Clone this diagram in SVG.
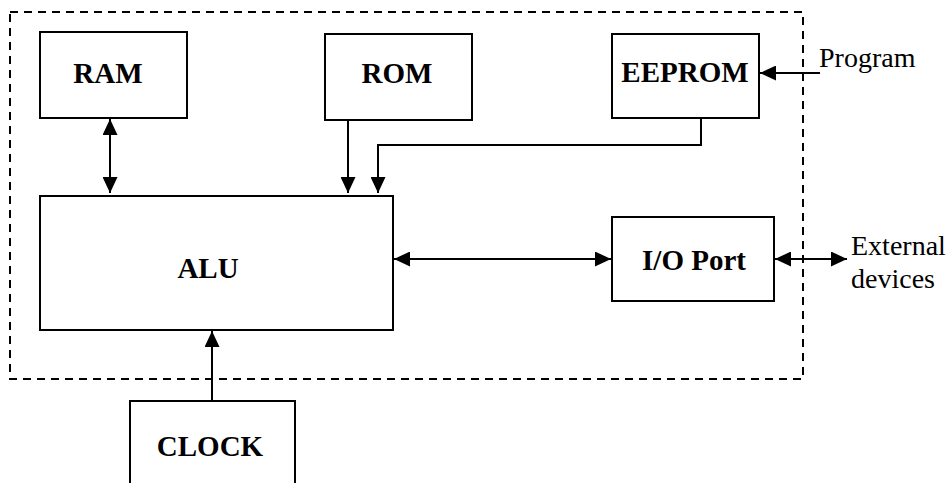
<svg xmlns="http://www.w3.org/2000/svg" width="952" height="483" viewBox="0 0 952 483">
<style>
.box{fill:#fff;stroke:#000;stroke-width:2}
.lbl{font-family:'Liberation Serif','Times New Roman',Times,'DejaVu Serif',serif;font-weight:bold;font-size:29px;text-anchor:middle;fill:#000}
.ext{font-family:'Liberation Serif','Times New Roman',Times,'DejaVu Serif',serif;font-size:28px;fill:#000}
.conn{fill:none;stroke:#000;stroke-width:2}
</style>
<defs>
<marker id="ah" markerUnits="userSpaceOnUse" markerWidth="16" markerHeight="15" refX="16" refY="7.5" orient="auto-start-reverse" viewBox="0 0 16 15">
<path d="M0,0 L16,7.5 L0,15 z" fill="#000"/>
</marker>
</defs>
<rect x="10" y="12" width="793" height="367" fill="none" stroke="#000" stroke-width="2" stroke-dasharray="8,6"/>
<g id="connectors">
<line class="conn" x1="110" y1="119" x2="110" y2="193" marker-start="url(#ah)" marker-end="url(#ah)"/>
<line class="conn" x1="348" y1="120" x2="348" y2="193" marker-end="url(#ah)"/>
<polyline class="conn" points="701,118 701,145 378,145 378,193" marker-end="url(#ah)"/>
<line class="conn" x1="394" y1="259" x2="611" y2="259" marker-start="url(#ah)" marker-end="url(#ah)"/>
<line class="conn" x1="775" y1="259" x2="847" y2="259" marker-start="url(#ah)" marker-end="url(#ah)"/>
<line class="conn" x1="820" y1="73" x2="760" y2="73" marker-end="url(#ah)"/>
<line class="conn" x1="212" y1="401" x2="212" y2="331" marker-end="url(#ah)"/>
</g>
<g id="ram"><rect class="box" x="40" y="32" width="147" height="86"/><text class="lbl" x="108" y="83" font-family="Liberation Serif, serif">RAM</text></g>
<g id="rom"><rect class="box" x="325" y="34" width="147" height="86"/><text class="lbl" x="397" y="83">ROM</text></g>
<g id="eeprom"><rect class="box" x="612" y="34" width="147" height="84"/><text class="lbl" x="685" y="82">EEPROM</text></g>
<g id="alu"><rect class="box" x="40" y="196" width="353" height="134"/><text class="lbl" x="208" y="278">ALU</text></g>
<g id="io"><rect class="box" x="612" y="217" width="162" height="84"/><text class="lbl" x="694" y="270">I/O Port</text></g>
<g id="clock"><rect class="box" x="130" y="401" width="165" height="90"/><text class="lbl" x="210" y="456">CLOCK</text></g>
<g id="program"><text class="ext" x="819" y="67">Program</text></g>
<g id="external"><text class="ext" x="851" y="255">External</text><text class="ext" x="851" y="288">devices</text></g>
</svg>
